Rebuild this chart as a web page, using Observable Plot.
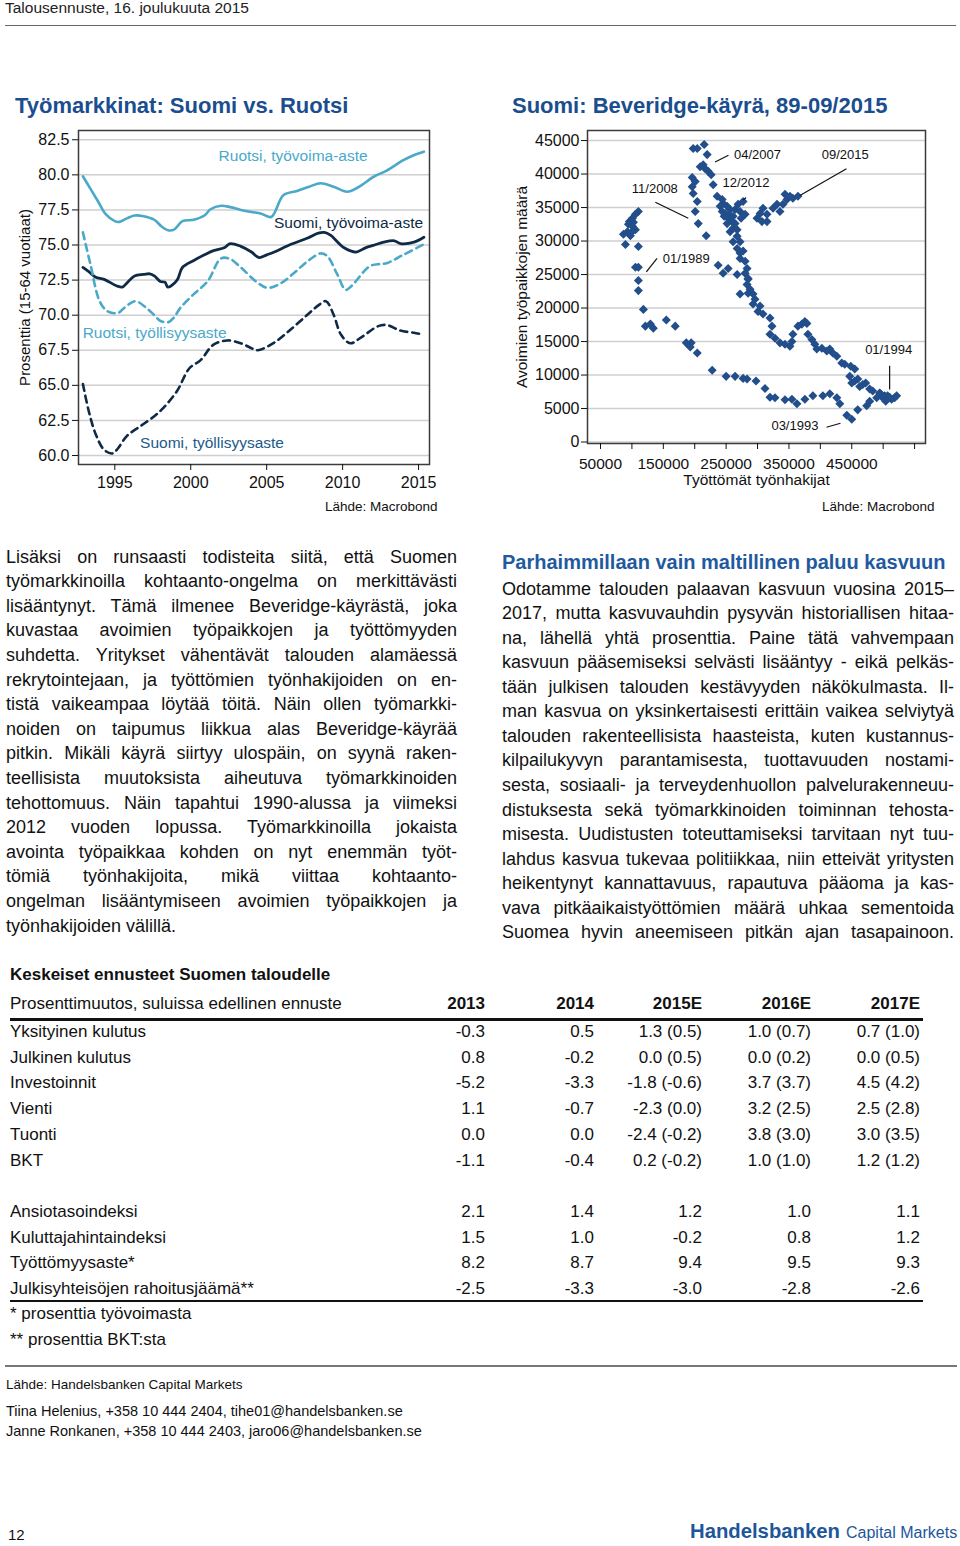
<!DOCTYPE html>
<html><head><meta charset="utf-8">
<script src="https://cdn.jsdelivr.net/npm/d3@7"></script>
<script src="https://cdn.jsdelivr.net/npm/@observablehq/plot@0.6"></script>
<style>
body{margin:0;background:#fff;font-family:"Liberation Sans",Arial,sans-serif;color:#111;}
#page{position:relative;width:960px;height:1546px;overflow:hidden;background:#fff;}
.abs{position:absolute;white-space:nowrap;}
</style></head>
<body><div id="page"></div>
<script>
// ---------------- DATA ----------------
// Left chart: [year, percent]
const ruotsiTyovoima = [[1992.9,79.9],[1993.4,79.0],[1993.9,78.1],[1994.4,77.2],[1995.0,76.7],[1995.3,76.65],[1995.8,76.9],[1996.3,77.1],[1996.9,77.05],[1997.6,76.8],[1998.1,76.3],[1998.5,76.05],[1998.9,76.1],[1999.45,76.7],[2000.2,76.8],[2000.9,77.1],[2001.3,77.55],[2002.0,77.8],[2002.6,77.7],[2003.3,77.5],[2004.0,77.35],[2004.6,77.25],[2005.3,77.0],[2006.1,78.55],[2007.0,78.85],[2007.8,79.15],[2008.55,79.4],[2009.4,79.15],[2010.3,78.8],[2011.0,79.1],[2012.1,79.9],[2012.9,80.3],[2014.0,81.05],[2014.8,81.45],[2015.35,81.65]];
const suomiTyovoima = [[1992.9,73.4],[1993.4,73.0],[1993.75,72.7],[1994.3,72.55],[1995.1,72.1],[1995.5,72.0],[1995.8,72.3],[1996.3,72.8],[1996.9,72.9],[1997.3,72.95],[1997.6,72.8],[1998.0,72.4],[1998.3,72.35],[1998.5,72.0],[1999.1,72.5],[1999.45,73.4],[2000.2,73.9],[2000.9,74.3],[2001.5,74.6],[2002.2,74.8],[2002.6,75.1],[2003.3,74.9],[2004.0,74.5],[2004.5,74.1],[2005.0,74.3],[2005.5,74.5],[2006.6,75.05],[2007.7,75.5],[2008.4,75.85],[2008.8,75.9],[2009.2,75.7],[2010.1,74.8],[2010.9,74.5],[2011.5,74.8],[2012.1,75.0],[2012.7,75.2],[2013.4,75.3],[2013.8,75.1],[2014.7,75.2],[2015.35,75.55]];
const ruotsiTyollisyys = [[1992.9,75.9],[1993.4,73.6],[1994.0,71.0],[1994.5,70.3],[1995.2,70.15],[1995.6,70.5],[1996.1,70.9],[1996.4,71.0],[1997.1,70.5],[1997.6,70.0],[1998.0,69.6],[1998.5,69.5],[1998.9,69.85],[1999.3,70.5],[2000.2,71.5],[2001.1,72.4],[2002.0,74.05],[2002.6,74.0],[2003.3,73.4],[2004.3,72.4],[2005.05,71.95],[2005.9,72.25],[2006.8,73.0],[2007.7,73.85],[2008.55,74.4],[2009.0,74.2],[2009.65,72.9],[2010.2,71.8],[2010.6,72.1],[2011.8,73.5],[2012.5,73.65],[2012.9,73.7],[2014.0,74.3],[2015.35,75.05]];
const suomiTyollisyys = [[1992.9,65.1],[1993.3,63.1],[1993.75,61.5],[1994.3,60.4],[1994.85,60.15],[1995.2,60.5],[1995.8,61.4],[1996.7,62.1],[1997.6,62.8],[1998.2,63.4],[1999.1,64.6],[1999.9,66.2],[2000.65,66.8],[2001.5,67.9],[2002.4,68.2],[2003.3,68.0],[2003.9,67.7],[2004.4,67.5],[2005.5,68.05],[2006.6,69.0],[2007.7,70.05],[2008.4,70.7],[2008.9,71.0],[2009.4,70.05],[2009.9,68.6],[2010.5,68.0],[2011.2,68.4],[2012.3,69.2],[2012.9,69.3],[2013.8,68.9],[2014.7,68.75],[2015.35,68.6]];
const leftYTicks = [60, 62.5, 65, 67.5, 70, 72.5, 75, 77.5, 80, 82.5];
const leftXTicks = [1995, 2000, 2005, 2010, 2015];
const leftLabels = [
  {text: "Ruotsi, työvoima-aste", x: 2006.74, y: 81.36, color: "#4aa9c9"},
  {text: "Suomi, työvoima-aste", x: 2010.39, y: 76.59, color: "#0f2a47"},
  {text: "Ruotsi, työllisyysaste", x: 1997.62, y: 68.74, color: "#4aa9c9"},
  {text: "Suomi, työllisyysaste", x: 2001.40, y: 60.88, color: "#215a8a"}
];

// Right chart: [unemployed job seekers, open vacancies]
const beveridgePoints = [
 [105600,26100],[110300,26100],[110300,24100],[110300,34400],[105600,34000],[100800,33400],[96000,32900],[94400,32500],[100800,32200],[92900,31400],[105600,31700],[86500,31000],[97600,30800],[89700,29500],[110300,29200],[102400,32800],[99200,31300],
 [110300,22600],[118300,19800],[121400,17300],[129400,17600],[134100,17000],[154800,18200],[169000,17300],[186500,14800],[194400,14800],[192900,14200],[204000,13300],[227800,10700],[250000,9800],[264300,9800],[277000,9500],[283300,9400],[297600,9100],[311900,8000],[319800,6700],[327800,6600],[343700,6300],[354800,6400],[362700,5700],[375400,6400],[388100,6900],[404000,6900],[415100,7200],[426200,6600],[431000,5700],[442100,4000],[450000,3400],[459500,4800],[473800,5400],[478600,6100],[489700,6600],
 [496000,7200],[502400,6900],[507100,6900],[513500,6400],[518300,6600],[510300,6700],[521400,6900],[494400,7300],[504000,6100],[499200,6600],
 [483300,7600],[478600,7900],[472200,8800],[467500,8600],[462700,8300],[459500,9400],[454800,9100],[450000,8800],[446800,9800],[454800,10900],[448400,11300],[438900,11600],[434100,11800],[426200,12800],[419800,13300],[415100,13900],[410300,13600],[402400,14000],[394400,13900],[391300,14600],[386500,15300],[380200,16100],[378600,17700],[375400,18000],[370600,17600],[364300,17300],[356300,16100],[354800,15000],[351600,14300],[343700,14600],[335700,14800],[327800,15500],[319800,16100],[323000,17300],[319800,18500],[308700,19100],[300800,19500],[304000,20300],[292900,20600],[296000,21300],[292900,22100],[284900,22200],[288100,22800],[272200,22100],[283300,23500],[284900,24300],[280200,25200],[267500,25000],[283300,25900],[280200,27000],[272200,27400],[272200,28200],[267500,28900],[277000,28500],[261100,29900],[272200,29900],[267500,30700],[256300,31400],[261100,31900],[264300,32600],[259500,32900],[253200,33400],[248400,34100],[256300,34700],[251600,35200],[245200,35600],[243700,36200],[235700,36700],[229400,38400],[226200,39900],[221400,40400],[216700,40800],[208700,41100],[213500,41400],[219800,42900],[215100,44400],[197600,43800],[204000,43800],
 [196000,39500],[200800,38900],[196000,38100],[197600,37100],[204000,35900],[200800,34400],[205600,32600],[218300,30800],
 [237300,26400],[245200,25200],[253200,25900],[284900,24400],
 [240500,35200],[246800,33700],[251600,32600],[243700,34400],[254800,34000],[264300,34700],[272200,34400],[280200,34000],[273800,33400],[261100,33700],[267500,31700],[277000,35900],[269000,35500],
 [299200,33400],[307100,32900],[315100,32900],[308700,34900],[304000,34100],[315100,34000],[324600,34900],[331000,35500],[335700,34400],[340500,35500],[343700,37000],[346800,36200],[351600,36700],[356300,36400],[364300,36700]
];
const rightYTicks = [0,5000,10000,15000,20000,25000,30000,35000,40000,45000];
const rightXTicks = [50000,100000,150000,200000,250000,300000,350000,400000,450000,500000,550000];
const rightXLabelled = [50000,150000,250000,350000,450000];
const beveridgeNotes = [
  {label:"04/2007", tx:300000, ty:42900, x1:232500, y1:41800, x2:253700, y2:42800},
  {label:"09/2015", tx:439600, ty:42900, x1:441600, y1:40800, x2:367500, y2:36800},
  {label:"11/2008", tx:136500, ty:37800, x1:137300, y1:35800, x2:189700, y2:33400},
  {label:"12/2012", tx:281700, ty:38700, x1:281700, y1:36500, x2:277400, y2:36100},
  {label:"01/1989", tx:186500, ty:27400, x1:140000, y1:27400, x2:123000, y2:25400},
  {label:"01/1994", tx:508700, ty:13700, x1:510300, y1:11400, x2:510300, y2:7850},
  {label:"03/1993", tx:359500, ty:2400,  x1:409800, y1:2200,  x2:432000, y2:2800}
];

// Texts
const leftParagraph = [
 "Lisäksi on runsaasti todisteita siitä, että Suomen",
 "työmarkkinoilla kohtaanto-ongelma on merkittävästi",
 "lisääntynyt. Tämä ilmenee Beveridge-käyrästä, joka",
 "kuvastaa avoimien työpaikkojen ja työttömyyden",
 "suhdetta. Yritykset vähentävät talouden alamäessä",
 "rekrytointejaan, ja työttömien työnhakijoiden on en-",
 "tistä vaikeampaa löytää töitä. Näin ollen työmarkki-",
 "noiden on taipumus liikkua alas Beveridge-käyrää",
 "pitkin. Mikäli käyrä siirtyy ulospäin, on syynä raken-",
 "teellisista muutoksista aiheutuva työmarkkinoiden",
 "tehottomuus. Näin tapahtui 1990-alussa ja viimeksi",
 "2012 vuoden lopussa. Työmarkkinoilla jokaista",
 "avointa työpaikkaa kohden on nyt enemmän työt-",
 "tömiä työnhakijoita, mikä viittaa kohtaanto-",
 "ongelman lisääntymiseen avoimien työpaikkojen ja",
 "työnhakijoiden välillä."
];
const rightHeading = "Parhaimmillaan vain maltillinen paluu kasvuun";
const rightParagraph = [
 "Odotamme talouden palaavan kasvuun vuosina 2015–",
 "2017, mutta kasvuvauhdin pysyvän historiallisen hitaa-",
 "na, lähellä yhtä prosenttia. Paine tätä vahvempaan",
 "kasvuun pääsemiseksi selvästi lisääntyy - eikä pelkäs-",
 "tään julkisen talouden kestävyyden näkökulmasta. Il-",
 "man kasvua on yksinkertaisesti erittäin vaikea selviytyä",
 "talouden rakenteellisista haasteista, kuten kustannus-",
 "kilpailukyvyn parantamisesta, tuottavuuden nostami-",
 "sesta, sosiaali- ja terveydenhuollon palvelurakenneuu-",
 "distuksesta sekä työmarkkinoiden toiminnan tehosta-",
 "misesta. Uudistusten toteuttamiseksi tarvitaan nyt tuu-",
 "lahdus kasvua tukevaa politiikkaa, niin etteivät yritysten",
 "heikentynyt kannattavuus, rapautuva pääoma ja kas-",
 "vava pitkäaikaistyöttömien määrä uhkaa sementoida",
 "Suomea hyvin aneemiseen pitkän ajan tasapainoon."
];
const tableTitle = "Keskeiset ennusteet Suomen taloudelle";
const tableSubtitle = "Prosenttimuutos, suluissa edellinen ennuste";
const tableYears = ["2013","2014","2015E","2016E","2017E"];
const tableRowsA = [
 ["Yksityinen kulutus","-0.3","0.5","1.3 (0.5)","1.0 (0.7)","0.7 (1.0)"],
 ["Julkinen kulutus","0.8","-0.2","0.0 (0.5)","0.0 (0.2)","0.0 (0.5)"],
 ["Investoinnit","-5.2","-3.3","-1.8 (-0.6)","3.7 (3.7)","4.5 (4.2)"],
 ["Vienti","1.1","-0.7","-2.3 (0.0)","3.2 (2.5)","2.5 (2.8)"],
 ["Tuonti","0.0","0.0","-2.4 (-0.2)","3.8 (3.0)","3.0 (3.5)"],
 ["BKT","-1.1","-0.4","0.2 (-0.2)","1.0 (1.0)","1.2 (1.2)"]
];
const tableRowsB = [
 ["Ansiotasoindeksi","2.1","1.4","1.2","1.0","1.1"],
 ["Kuluttajahintaindeksi","1.5","1.0","-0.2","0.8","1.2"],
 ["Työttömyysaste*","8.2","8.7","9.4","9.5","9.3"],
 ["Julkisyhteisöjen rahoitusjäämä**","-2.5","-3.3","-3.0","-2.8","-2.6"]
];
const footnotes = ["* prosenttia työvoimasta", "** prosenttia BKT:sta"];

// ---------------- LAYOUT HELPERS ----------------
const FONT = '"Liberation Sans", Arial, sans-serif';
const page = document.getElementById("page");
function addText(txt, x, yc, o = {}) {
  const size = o.size || 17;
  const L = Math.round(size * 1.3);
  const d = document.createElement("div");
  d.className = "abs";
  d.textContent = txt;
  d.style.font = `${o.weight || "normal"} ${size}px ${FONT}`;
  d.style.lineHeight = L + "px";
  d.style.top = (yc - L / 2) + "px";
  d.style.left = x + "px";
  d.style.color = o.color || "#111";
  if (o.align === "right") d.style.transform = "translateX(-100%)";
  page.appendChild(d);
  return d;
}
function addRule(x1, x2, y, h, color) {
  const d = document.createElement("div");
  d.style.cssText = `position:absolute;left:${x1}px;width:${x2 - x1}px;top:${y - h / 2}px;height:${h}px;background:${color};`;
  page.appendChild(d);
}
function addJustified(lines, x, y0, width, step, size, justifyLast) {
  lines.forEach((t, i) => {
    const d = addText(t, x, y0 + i * step, {size});
    if (i === lines.length - 1 && !justifyLast) return;
    const w = d.getBoundingClientRect().width;
    const n = (t.match(/ /g) || []).length;
    if (n > 0) d.style.wordSpacing = ((width - w) / n) + "px";
  });
}
function placeSvg(el, x, y) {
  const w = document.createElement("div");
  w.style.cssText = `position:absolute;left:${x}px;top:${y}px;`;
  w.appendChild(el);
  page.appendChild(w);
}

// ---------------- HEADER ----------------
addText("Talousennuste, 16. joulukuuta 2015", 5, 8, {size: 15.5, color: "#222"});
addRule(5, 956, 25, 1, "#666");

const titleColor = "#1a4e8e";
addText("Työmarkkinat: Suomi vs. Ruotsi", 15, 105, {size: 22, weight: "bold", color: titleColor});
addText("Suomi: Beveridge-käyrä, 89-09/2015", 512, 105, {size: 22, weight: "bold", color: titleColor});

// ---------------- LEFT CHART ----------------
const navy = "#0f2a47", lightBlue = "#4aa9c9";
const axisStyle = {fontFamily: FONT, fontSize: "16px", color: "#111", background: "transparent", overflow: "visible"};
const leftChart = Plot.plot({
  width: 470, height: 400,
  marginLeft: 78, marginRight: 41, marginTop: 10, marginBottom: 56,
  x: {domain: [1992.61, 2015.72]},
  y: {domain: [59.36, 83.16]},
  style: axisStyle,
  marks: [
    Plot.gridY(leftYTicks, {stroke: "#cfcfcf", strokeOpacity: 1, strokeWidth: 1.5}),
    Plot.line(ruotsiTyovoima, {x: d => d[0], y: d => d[1], stroke: lightBlue, strokeWidth: 2.6, curve: "catmull-rom"}),
    Plot.line(suomiTyovoima, {x: d => d[0], y: d => d[1], stroke: navy, strokeWidth: 2.8, curve: "catmull-rom"}),
    Plot.line(ruotsiTyollisyys, {x: d => d[0], y: d => d[1], stroke: lightBlue, strokeWidth: 2.6, strokeDasharray: "7,5", curve: "catmull-rom"}),
    Plot.line(suomiTyollisyys, {x: d => d[0], y: d => d[1], stroke: navy, strokeWidth: 2.6, strokeDasharray: "7,5", curve: "catmull-rom"}),
    ...leftLabels.map(l => Plot.text([l], {x: "x", y: "y", text: "text", fill: l.color, fontSize: 15.5})),
    Plot.frame({stroke: "#3a3a3a", strokeWidth: 1.5}),
    Plot.axisY(leftYTicks, {tickFormat: d => d.toFixed(1), tickSize: 6, tickPadding: 3, fontSize: 16, label: null}),
    Plot.axisX(leftXTicks, {tickFormat: d => String(d), tickSize: 6, tickPadding: 6, fontSize: 16, label: null}),
    Plot.text(["Prosenttia (15-64 vuotiaat)"], {frameAnchor: "left", textAnchor: "middle", dx: -53, rotate: -90, fontSize: 15})
  ]
});
placeSvg(leftChart, 0, 120);
addText("Lähde: Macrobond", 325, 507, {size: 13.5});

// ---------------- RIGHT CHART ----------------
const rightChart = Plot.plot({
  width: 460, height: 400,
  marginLeft: 87, marginRight: 35, marginTop: 10, marginBottom: 77,
  x: {domain: [29300, 567400]},
  y: {domain: [-220, 46500]},
  style: axisStyle,
  marks: [
    Plot.gridY(rightYTicks, {stroke: "#cfcfcf", strokeOpacity: 1, strokeWidth: 1.5}),
    Plot.dot(beveridgePoints, {x: d => d[0], y: d => d[1], symbol: "square", rotate: 45, r: 3.6, fill: "#224e8b", stroke: "none"}),
    Plot.link(beveridgeNotes, {x1: "x1", y1: "y1", x2: "x2", y2: "y2", stroke: "#111", strokeWidth: 1.2}),
    Plot.text(beveridgeNotes, {x: "tx", y: "ty", text: "label", fontSize: 13, fill: "#111"}),
    Plot.frame({stroke: "#3a3a3a", strokeWidth: 1.5}),
    Plot.axisY(rightYTicks, {tickFormat: d => String(d), tickSize: 6, tickPadding: 2, fontSize: 16, label: null}),
    Plot.axisX(rightXTicks, {tickFormat: d => rightXLabelled.includes(d) ? String(d) : "", tickSize: 6, tickPadding: 8, fontSize: 15.5, label: null}),
    Plot.text(["Avoimien työpaikkojen määrä"], {frameAnchor: "left", textAnchor: "middle", dx: -65, rotate: -90, fontSize: 15.5}),
    Plot.text(["Työttömät työnhakijat"], {frameAnchor: "bottom", dy: 41, fontSize: 15.5})
  ]
});
placeSvg(rightChart, 500, 120);
addText("Lähde: Macrobond", 822, 507, {size: 13.5});

// ---------------- BODY TEXT ----------------
addJustified(leftParagraph, 6, 557, 451, 24.6, 18, false);
addText(rightHeading, 502, 562, {size: 20, weight: "bold", color: "#1f5aa0"});
addJustified(rightParagraph, 502, 589, 452, 24.57, 18, true);

// ---------------- TABLE ----------------
const colRight = [485, 594, 702, 811, 920];
addText(tableTitle, 10, 975, {size: 17, weight: "bold"});
addText(tableSubtitle, 10, 1004, {size: 17});
tableYears.forEach((y, i) => addText(y, colRight[i], 1004, {size: 17, weight: "bold", align: "right"}));
addRule(10, 923, 1019, 3, "#111");
function addRows(rows, y0) {
  rows.forEach((r, i) => {
    const y = y0 + i * 25.7;
    addText(r[0], 10, y, {size: 17});
    r.slice(1).forEach((v, j) => addText(v, colRight[j], y, {size: 17, align: "right"}));
  });
}
addRows(tableRowsA, 1032);
addRows(tableRowsB, 1212);
addRule(10, 923, 1301, 2.5, "#111");
footnotes.forEach((f, i) => addText(f, 10, 1314 + i * 26, {size: 17}));
addRule(5, 957, 1366, 1.5, "#777");

// ---------------- FOOTER ----------------
addText("Lähde: Handelsbanken Capital Markets", 6, 1385, {size: 13.5});
addText("Tiina Helenius, +358 10 444 2404, tihe01@handelsbanken.se", 6, 1411, {size: 14.5});
addText("Janne Ronkanen, +358 10 444 2403, jaro06@handelsbanken.se", 6, 1431, {size: 14.5});
addText("12", 8, 1535, {size: 15});
addText("Handelsbanken", 690, 1531, {size: 20.3, weight: "bold", color: "#1d569b"});
addText("Capital Markets", 846, 1532, {size: 16, color: "#1d569b"});
</script>
</body></html>
